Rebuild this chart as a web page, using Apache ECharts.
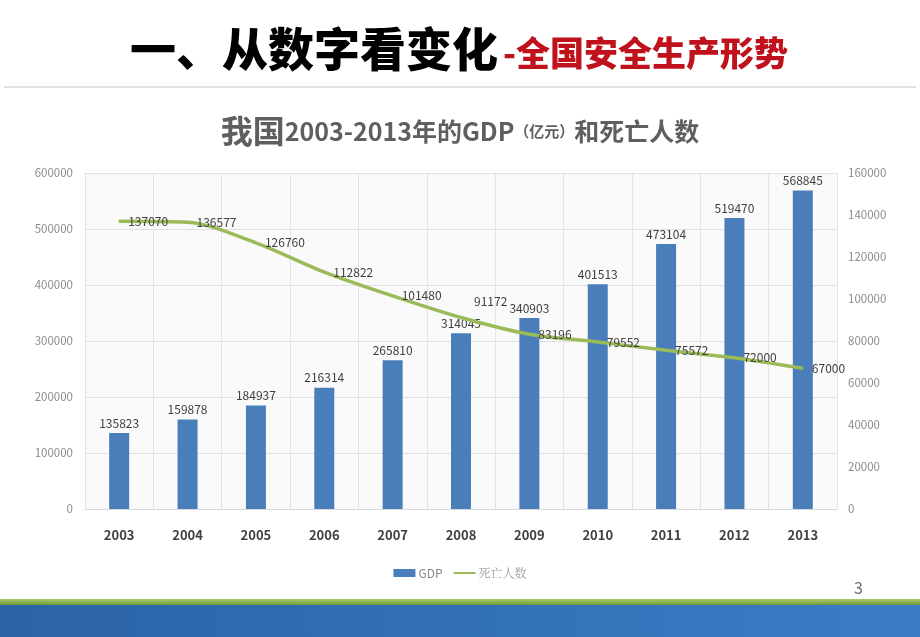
<!DOCTYPE html>
<html><head><meta charset="utf-8">
<script src="https://cdn.jsdelivr.net/npm/echarts@6/dist/echarts.min.js"></script>
<style>html,body{margin:0;padding:0;background:#fff}#c{width:920px;height:637px}</style>
</head><body><div id="c"></div>
<script>
const years = ['2003','2004','2005','2006','2007','2008','2009','2010','2011','2012','2013'];
const gdp = [135823,159878,184937,216314,265810,314045,340903,401513,473104,519470,568845];
const deaths = [137070,136577,126760,112822,101480,91172,83196,79552,75572,72000,67000];

const chart = echarts.init(document.getElementById('c'));
const CJK = '"Noto Sans CJK SC", sans-serif';
chart.setOption({
  animation: false,
  textStyle: { fontFamily: CJK },
  title: {
    left: 'center', top: 110,
    text: '{a|我国}{b|2003-2013年的GDP}{c|（亿元）}{b|和死亡人数}',
    textStyle: {
      rich: {
        a: { fontSize: 32, fontWeight: 'bold', color: '#5f5f5f', fontFamily: CJK },
        b: { fontSize: 25, fontWeight: 'bold', color: '#5f5f5f', fontFamily: CJK },
        c: { fontSize: 15, color: '#5f5f5f', fontFamily: CJK }
      }
    }
  },
  legend: {
    top: 562, left: 'center',
    itemGap: 10,
    textStyle: { color: '#8a8a8a', fontSize: 12, padding: [0, 0, 0, -2] },
    data: [
      { name: 'GDP', icon: 'rect', itemStyle: { color: '#4a7ebb' } },
      { name: '死亡人数', itemStyle: { opacity: 0 }, textStyle: { fontFamily: '"Noto Serif CJK SC", "DejaVu Serif", serif', color: '#9a9a9a' } }
    ],
    itemWidth: 22, itemHeight: 8
  },
  grid: { left: 85, right: 83, top: 173, bottom: 128, show: true, backgroundColor: '#fafafa', borderWidth: 0 },
  xAxis: {
    type: 'category', data: years,
    axisLine: { lineStyle: { color: '#d9d9d9' } },
    axisTick: { show: false },
    axisLabel: { margin: 20, color: '#404040', fontWeight: 'bold', fontSize: 13 },
    splitLine: { show: true, lineStyle: { color: '#e4e4e4' } }
  },
  yAxis: [
    { type: 'value', min: 0, max: 600000, interval: 100000,
      axisLine: { show: false }, axisTick: { show: false },
      axisLabel: { color: '#8c8c8c', fontSize: 11.5, margin: 12, formatter: v => String(v) },
      splitLine: { lineStyle: { color: '#e0e0e0' } } },
    { type: 'value', min: 0, max: 160000, interval: 20000,
      axisLine: { show: false }, axisTick: { show: false },
      axisLabel: { color: '#8c8c8c', fontSize: 11.5, margin: 11, formatter: v => String(v) },
      splitLine: { show: false } }
  ],
  series: [
    { name: 'GDP', type: 'bar', data: gdp, barWidth: 20, yAxisIndex: 0,
      itemStyle: { color: '#4a7ebb' },
      label: { show: true, position: 'top', color: '#404040', fontSize: 12, distance: 4 } },
    { name: '死亡人数', type: 'line', data: deaths, yAxisIndex: 1, smooth: 0.3,
      symbol: 'circle', symbolSize: 2, showSymbol: true,
      lineStyle: { color: '#9bbb59', width: 3.5 }, itemStyle: { color: '#9bbb59' },
      // the 2008 label sits higher in the original to clear the bar label
      labelLayout: p => p.dataIndex === 5 ? { dx: 4, dy: -16, hideOverlap: false } : { hideOverlap: false },
      label: { show: true, position: 'right', color: '#404040', fontSize: 12, distance: 8 } }
  ],
  graphic: [
    { type: 'text', left: 130, top: 26, style: { text: '一、从数字看变化', fill: '#000', font: '900 46px "Noto Sans CJK SC"' } },
    { type: 'text', left: 503, top: 36, style: { text: '-全国安全生产形势', fill: '#c0121c', font: '900 34px "Noto Sans CJK SC"' } },
    { type: 'rect', shape: { x: 4, y: 86, width: 912, height: 2 }, style: { fill: '#dde2e2' } },
    { type: 'text', left: 854, top: 580, style: { text: '3', fill: '#707070', font: '16px "Noto Sans CJK SC"' } },
    { type: 'rect', shape: { x: 0, y: 599, width: 920, height: 6 },
      style: { fill: new echarts.graphic.LinearGradient(0,0,0,1,[{offset:0,color:'#a9cc6a'},{offset:1,color:'#6e9a3a'}]) } },
    { type: 'rect', shape: { x: 0, y: 605, width: 920, height: 32 },
      style: { fill: new echarts.graphic.LinearGradient(0,0,1,0,[{offset:0,color:'#2b63a6'},{offset:1,color:'#3a7dc6'}]) } }
  ]
});
</script></body></html>
